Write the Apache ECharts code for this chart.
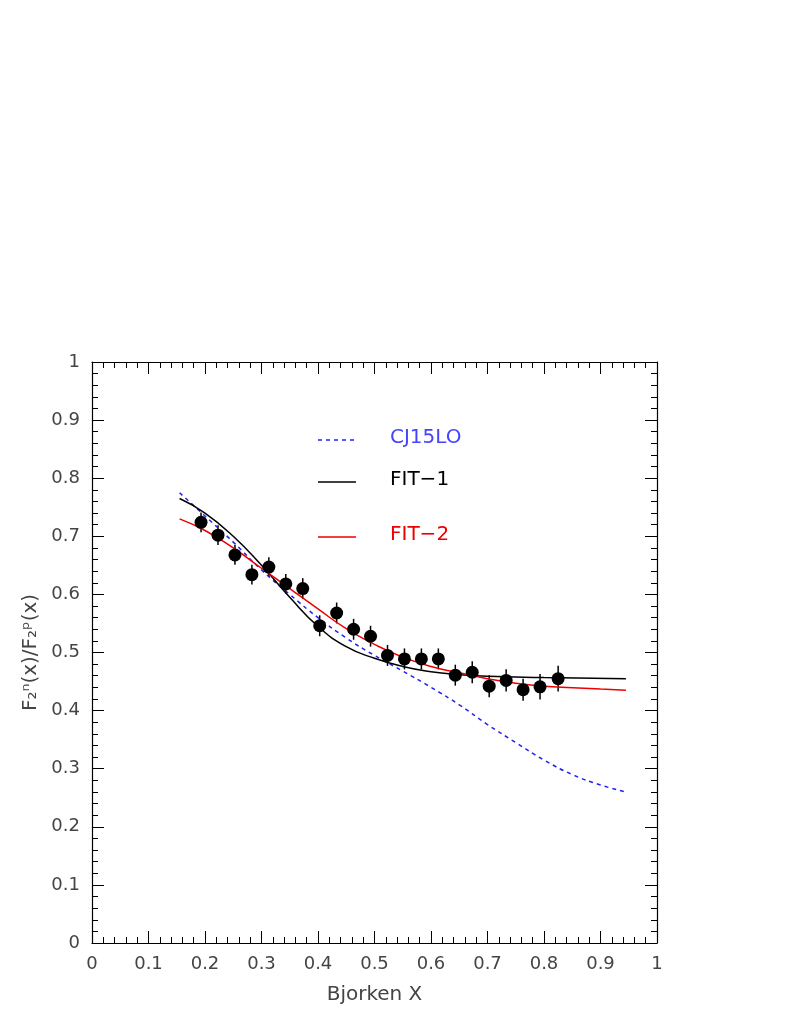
<!DOCTYPE html>
<html>
<head>
<meta charset="utf-8">
<script src="https://cdn.jsdelivr.net/npm/echarts@6/dist/echarts.min.js"></script>
<style>html,body{margin:0;padding:0;background:#fff}#chart{width:789px;height:1021px}</style>
</head>
<body>
<div id="chart"></div>
<script>
// data points (Bjorken x, ratio, error)
var dataX = [0.193,0.223,0.253,0.283,0.313,0.343,0.373,0.403,0.433,0.463,0.493,0.523,0.553,0.583,0.613,0.643,0.673,0.703,0.733,0.763,0.793,0.825];
var dataY = [0.724,0.702,0.668,0.634,0.647,0.618,0.610,0.546,0.568,0.540,0.528,0.495,0.489,0.489,0.489,0.461,0.466,0.442,0.452,0.436,0.441,0.455];
var dataErr = [0.017,0.017,0.017,0.017,0.017,0.017,0.018,0.018,0.018,0.018,0.018,0.018,0.018,0.018,0.018,0.018,0.019,0.019,0.019,0.019,0.022,0.022];

// curves
var cjX = [0.155,0.2,0.25,0.3,0.35,0.4,0.45,0.5,0.55,0.6,0.65,0.7,0.75,0.8,0.85,0.9,0.945];
var cjY = [0.775,0.735,0.69,0.642,0.600,0.560,0.525,0.495,0.468,0.440,0.410,0.376,0.345,0.315,0.290,0.272,0.260];
var fit1X = [0.155,0.2,0.25,0.3,0.35,0.4,0.45,0.5,0.55,0.6,0.65,0.7,0.8,0.945];
var fit1Y = [0.765,0.740,0.700,0.650,0.595,0.545,0.510,0.490,0.476,0.467,0.462,0.459,0.457,0.455];
var fit2X = [0.155,0.2,0.25,0.3,0.35,0.4,0.45,0.5,0.55,0.6,0.65,0.7,0.75,0.8,0.9,0.945];
var fit2Y = [0.730,0.710,0.680,0.645,0.610,0.575,0.541,0.514,0.492,0.476,0.465,0.455,0.447,0.442,0.437,0.435];

function pairs(xs, ys){ return xs.map(function(x,i){ return [x, ys[i]]; }); }

var myChart = echarts.init(document.getElementById('chart'));
var font = 'DejaVu Sans';
function axis(extra, labels){
	return Object.assign({
		type:'value', min:0, max:1, interval:0.1,
		axisLine:{show:true,onZero:false,lineStyle:{color:'#000',width:1.2}},
		axisTick:{inside:true,length:12,lineStyle:{color:'#000'}},
		minorTick:{show:true,splitNumber:5,length:6,lineStyle:{color:'#000'}},
		splitLine:{show:false},
		axisLabel:{show:labels,color:'#444',fontSize:18,fontFamily:font,margin:12,
			formatter:function(v){ return String(+v.toFixed(1)); }}
	}, extra);
}

var option = {
	animation:false,
	grid:{left:92,top:362,width:565,height:581},
	xAxis:[
		axis({position:'bottom',name:'Bjorken X',nameLocation:'middle',nameGap:42,
			nameTextStyle:{fontSize:20,color:'#444',fontFamily:font}}, true),
		axis({position:'top'}, false)
	],
	yAxis:[
		axis({position:'left',name:'F\u2082\u207F(x)/F\u2082\u1D56(x)',nameLocation:'middle',nameGap:50,
			nameTextStyle:{fontSize:20,color:'#444',fontFamily:font}}, true),
		axis({position:'right'}, false)
	],
	series:[
		{name:'CJ15LO',type:'line',data:pairs(cjX,cjY),smooth:true,showSymbol:false,
			lineStyle:{color:'#2222ee',type:[4,4],width:1.5}},
		{name:'FIT-1',type:'line',data:pairs(fit1X,fit1Y),smooth:true,showSymbol:false,
			lineStyle:{color:'#000',width:1.5}},
		{name:'FIT-2',type:'line',data:pairs(fit2X,fit2Y),smooth:true,showSymbol:false,
			lineStyle:{color:'#ee0000',width:1.5}},
		{type:'custom',
			data:dataX.map(function(x,i){ return [x, dataY[i]-dataErr[i], dataY[i]+dataErr[i]]; }),
			renderItem:function(params, api){
				var lo = api.coord([api.value(0), api.value(1)]);
				var hi = api.coord([api.value(0), api.value(2)]);
				return {type:'line',shape:{x1:lo[0],y1:lo[1],x2:hi[0],y2:hi[1]},style:{stroke:'#000',lineWidth:1.5}};
			}, z:3},
		{type:'scatter',data:pairs(dataX,dataY),symbol:'circle',symbolSize:13,
			itemStyle:{color:'#000',opacity:1},z:4}
	],
	graphic:[
		{type:'line',shape:{x1:318,y1:440,x2:356,y2:440},style:{stroke:'#2222ee',lineWidth:1.5,lineDash:[4,4]}},
		{type:'text',left:390,top:428,style:{text:'CJ15LO',fill:'#4444ff',font:'20px DejaVu Sans'}},
		{type:'line',shape:{x1:318,y1:482,x2:356,y2:482},style:{stroke:'#000',lineWidth:1.5}},
		{type:'text',left:390,top:470,style:{text:'FIT\u22121',fill:'#000',font:'20px DejaVu Sans'}},
		{type:'line',shape:{x1:318,y1:537,x2:356,y2:537},style:{stroke:'#ee0000',lineWidth:1.5}},
		{type:'text',left:390,top:525,style:{text:'FIT\u22122',fill:'#ee0000',font:'20px DejaVu Sans'}}
	]
};
myChart.setOption(option);
</script>
</body>
</html>
